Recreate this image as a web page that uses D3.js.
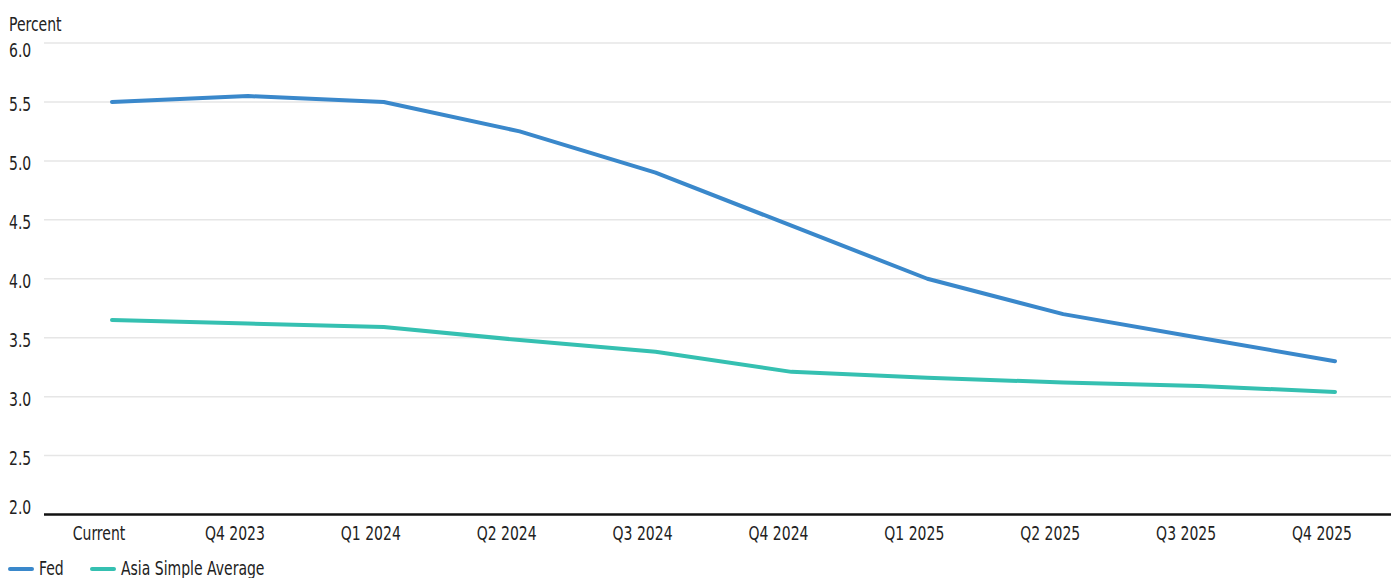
<!DOCTYPE html>
<html>
<head>
<meta charset="utf-8">
<script src="https://cdn.jsdelivr.net/npm/d3@7"></script>
<style>
  html, body { margin: 0; padding: 0; background: #fff; }
  svg text { font-family: "DejaVu Sans Condensed", "DejaVu Sans", sans-serif; font-stretch: condensed; fill: #222; font-size: 19px; }
</style>
</head>
<body>
<div id="chart"></div>
<script>
// data
var quarters = ["Current", "Q4 2023", "Q1 2024", "Q2 2024", "Q3 2024", "Q4 2024", "Q1 2025", "Q2 2025", "Q3 2025", "Q4 2025"];
var fedRates = [5.50, 5.55, 5.50, 5.25, 4.90, 4.45, 4.00, 3.70, 3.50, 3.30];
var asiaRates = [3.65, 3.62, 3.59, 3.48, 3.38, 3.21, 3.16, 3.12, 3.09, 3.04];
var yTicks = [2.0, 2.5, 3.0, 3.5, 4.0, 4.5, 5.0, 5.5, 6.0];
var seriesNames = ["Fed", "Asia Simple Average"];
var seriesColors = ["#3a88cb", "#35c0b1"];

var svgWidth = 1391;
var svgHeight = 578;
var squeeze = 0.82; // narrow the font horizontally, the original uses a condensed face

var svg = d3.select("#chart")
  .append("svg")
  .attr("width", svgWidth)
  .attr("height", svgHeight);

// scales
var x = d3.scalePoint()
  .domain(quarters)
  .range([112, 1335]);

var y = d3.scaleLinear()
  .domain([2, 6])
  .range([514.5, 43]);

var gridLeft = 44;
var gridRight = svgWidth;

function place(px, py) {
  return `translate(${px}, ${py}) scale(${squeeze}, 1)`;
}

// gridlines
svg.append("g")
  .selectAll("line")
  .data(yTicks.slice(1))
  .enter()
  .append("line")
  .attr("x1", gridLeft)
  .attr("x2", gridRight)
  .attr("y1", d => y(d))
  .attr("y2", d => y(d))
  .attr("stroke", "#e6e6e6")
  .attr("stroke-width", 1.5);

// y tick labels
svg.append("g")
  .selectAll("text")
  .data(yTicks)
  .enter()
  .append("text")
  .attr("transform", function(d) {
    var ty = y(d) + 9;
    if (d === 6) ty = y(d) + 14;
    if (d === 2) ty = y(d) - 0.5;
    return place(9, ty);
  })
  .text(d => d3.format(".1f")(d));

svg.append("text")
  .attr("transform", place(9, 31))
  .text("Percent");

// x axis line
svg.append("line")
  .attr("x1", gridLeft)
  .attr("x2", gridRight)
  .attr("y1", y(2))
  .attr("y2", y(2))
  .attr("stroke", "#111")
  .attr("stroke-width", 2.5);

// x tick labels
svg.append("g")
  .selectAll("text")
  .data(quarters)
  .enter()
  .append("text")
  .attr("transform", d => place(x(d) - 13, 540))
  .attr("text-anchor", "middle")
  .text(d => d);

// lines
var line = d3.line()
  .x((d, i) => x(quarters[i]))
  .y(d => y(d));

[fedRates, asiaRates].forEach(function(vals, i) {
  svg.append("path")
    .datum(vals)
    .attr("d", line)
    .attr("fill", "none")
    .attr("stroke", seriesColors[i])
    .attr("stroke-width", 4)
    .attr("stroke-linecap", "round")
    .attr("stroke-linejoin", "round");
});

// legend
var legendX = [10, 92];
var legend = svg.append("g")
  .selectAll("g")
  .data(seriesNames)
  .enter()
  .append("g")
  .attr("transform", (d, i) => `translate(${legendX[i]}, 569)`);

legend.append("line")
  .attr("x1", 0)
  .attr("x2", 22)
  .attr("stroke", (d, i) => seriesColors[i])
  .attr("stroke-width", 4)
  .attr("stroke-linecap", "round");

legend.append("text")
  .attr("transform", place(29, 6))
  .text(d => d);
</script>
</body>
</html>
